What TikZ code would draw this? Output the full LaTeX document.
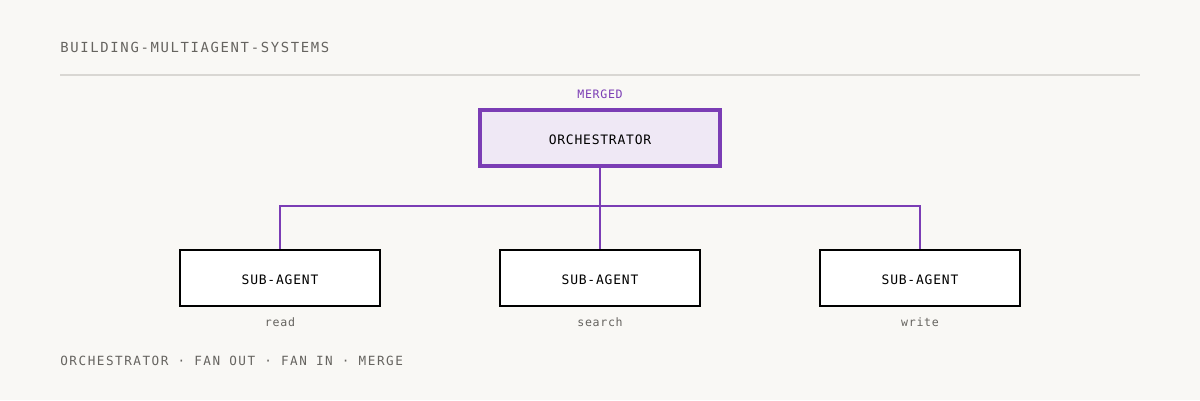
\documentclass[tikz,border=0pt]{standalone}
\usepackage{fontspec}
\usetikzlibrary{positioning}
\newfontfamily\monof[LetterSpace=12]{DejaVu Sans Mono}
\newfontfamily\monot[LetterSpace=6]{DejaVu Sans Mono}
\definecolor{bgc}{HTML}{F9F8F5}
\definecolor{purp}{HTML}{7B3DB5}
\definecolor{lpurp}{HTML}{EFE8F5}
\definecolor{greyt}{HTML}{666460}
\definecolor{rulec}{HTML}{D9D7D3}
\tikzset{font=\monof\fontsize{7.4}{9}\selectfont}
\tikzstyle{sub}=[draw=black,fill=white,line width=0.8pt,minimum width=4cm,minimum height=1.12cm,font=\monot\fontsize{7.4}{9}\selectfont]
\tikzstyle{note}=[text=greyt,font=\monot\fontsize{6.6}{8}\selectfont]
\begin{document}
\begin{tikzpicture}[x=0.02cm,y=-0.02cm]
\fill[bgc] (0,0) rectangle (1200,400);
\node[anchor=west,inner sep=0pt,text=greyt,font=\monof\fontsize{7.9}{9}\selectfont] (title) at (60,47) {BUILDING-MULTIAGENT-SYSTEMS};
\draw[rulec,line width=0.7pt] (60,75) -- (1140,75);
\node[draw=purp,fill=lpurp,line width=1.9pt,minimum width=4.8cm,minimum height=1.12cm,font=\monot\fontsize{7.4}{9}\selectfont] (orch) at (600,138) {};
\node (torch) at (600,140) {\monot\fontsize{7.4}{9}\selectfont ORCHESTRATOR};
\node[text=purp,font=\monot\fontsize{6.6}{8}\selectfont] (merged) at (600,94) {MERGED};
\node[sub] (read) at (280,278) {};
\node[sub] (search) at (600,278) {};
\node[sub] (write) at (920,278) {};
\foreach \n/\x in {read/280,search/600,write/920}
  \node (t\n) at (\x,280) {\monot\fontsize{7.4}{9}\selectfont SUB-AGENT};
\node[note] (lread) at (280,322) {read};
\node[note] (lsearch) at (600,322) {search};
\node[note] (lwrite) at (920,322) {write};
\coordinate (hub) at (600,206);
\draw[purp,line width=0.6pt] (orch.south) -- (hub) -- (search.north);
\draw[purp,line width=0.6pt] (hub) -| (read.north);
\draw[purp,line width=0.6pt] (hub) -| (write.north);
\node[anchor=west,inner sep=0pt,text=greyt,font=\monof\fontsize{7.2}{9}\selectfont] (foot) at (60,361) {ORCHESTRATOR · FAN OUT · FAN IN · MERGE};
\end{tikzpicture}
\end{document}
